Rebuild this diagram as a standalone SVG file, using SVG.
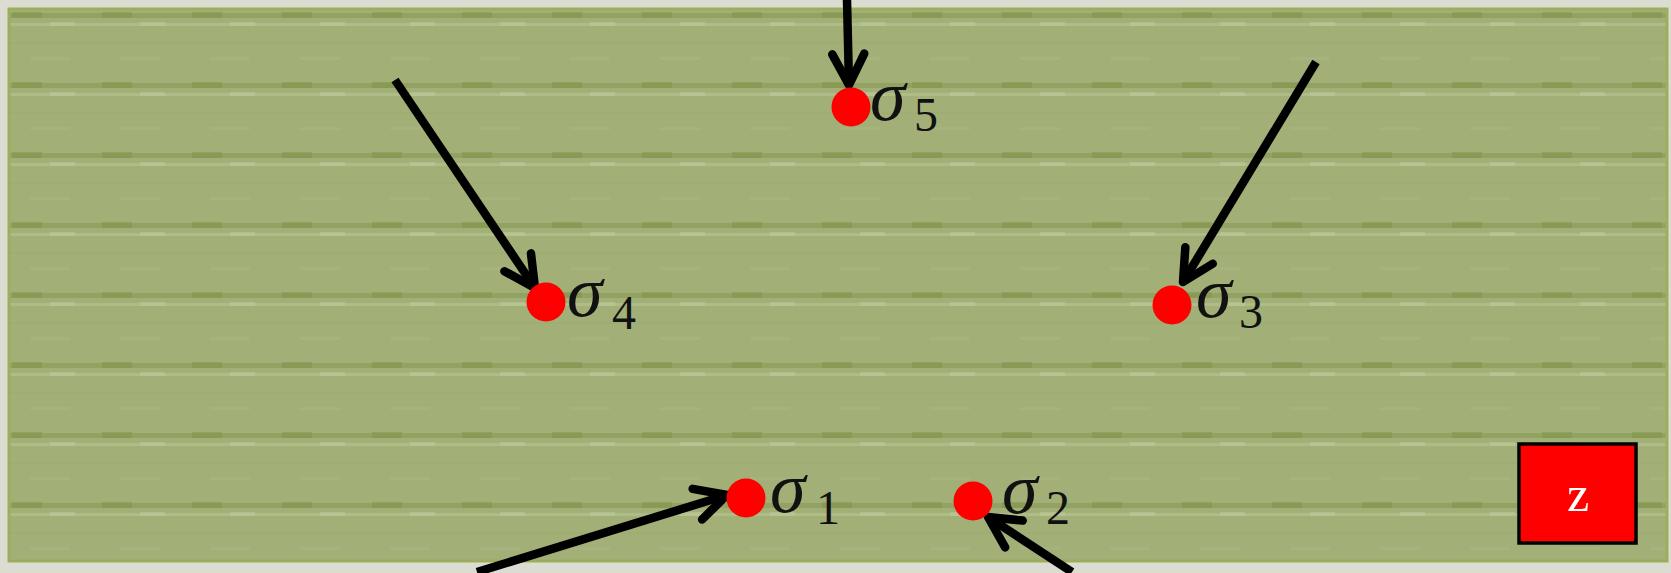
<svg xmlns="http://www.w3.org/2000/svg" width="1671" height="573" viewBox="0 0 1671 573">
<style>
.node circle{fill:#ff0000}
.sig{font-family:"Liberation Serif","DejaVu Serif",serif;font-style:italic;font-size:72px;fill:#111}
.sub{font-family:"Liberation Serif","DejaVu Serif",serif;font-size:48px;fill:#111}
.conn line{stroke:#000;stroke-width:8.5;fill:none;marker-end:url(#ah)}
</style>
<defs>
<marker id="ah" markerUnits="userSpaceOnUse" viewBox="-40 -25 50 50" markerWidth="50" markerHeight="50" refX="0" refY="0" orient="auto">
<path d="M-31,-16 L0,0 L-31,16" fill="none" stroke="#000" stroke-width="8.5" stroke-linecap="round" stroke-linejoin="round"/>
</marker>
<pattern id="stripes" patternUnits="userSpaceOnUse" x="0" y="12" width="90" height="70">
<rect x="0" y="0" width="90" height="70" fill="#a2b078"/>
<rect x="0" y="1" width="90" height="5" fill="#8c9d58" opacity="0.7"/>
<rect x="12" y="0" width="30" height="6" fill="#7f9148" opacity="0.5"/>
<rect x="0" y="11" width="90" height="3" fill="#b2bf8c" opacity="0.8"/>
<rect x="50" y="10" width="25" height="4" fill="#bcc899" opacity="0.6"/>
<rect x="0" y="30" width="90" height="2" fill="#9aa96c" opacity="0.5"/>
<rect x="30" y="45" width="40" height="3" fill="#a9b682" opacity="0.6"/>
</pattern>
</defs>
<rect x="0" y="0" width="1671" height="573" fill="#dcdcd3"/>
<rect x="9" y="9" width="1658" height="552" fill="url(#stripes)" stroke="#9cae5c" stroke-width="3"/>

<g class="conn">
<line x1="847" y1="0" x2="849" y2="85"/>
<line x1="395" y1="80" x2="535" y2="288"/>
<line x1="1316" y1="62" x2="1183" y2="282"/>
<line x1="477" y1="572" x2="727" y2="495"/>
<line x1="1072" y1="572" x2="988" y2="517"/>
</g>

<g id="sigma5" class="node">
<circle cx="851" cy="107" r="19.5"/>
<text class="sig" x="870" y="120">σ</text>
<text class="sub" x="914" y="131">5</text>
</g>
<g id="sigma4" class="node">
<circle cx="546" cy="302" r="19.5"/>
<text class="sig" x="567" y="316">σ</text>
<text class="sub" x="612" y="329">4</text>
</g>
<g id="sigma3" class="node">
<circle cx="1172" cy="305" r="19.5"/>
<text class="sig" x="1196" y="317">σ</text>
<text class="sub" x="1239" y="328">3</text>
</g>
<g id="sigma1" class="node">
<circle cx="746" cy="498" r="19.5"/>
<text class="sig" x="770" y="512">σ</text>
<text class="sub" x="816" y="524">1</text>
</g>
<g id="sigma2" class="node">
<circle cx="973" cy="501" r="19.5"/>
<text class="sig" x="1002" y="513">σ</text>
<text class="sub" x="1046" y="524">2</text>
</g>
<g id="z">
<rect x="1519" y="444" width="117" height="99" fill="#ff0000" stroke="#000" stroke-width="3.5"/>
<text x="1578" y="511" text-anchor="middle" font-family="Liberation Serif, serif" font-size="50" fill="#fff">z</text>
</g>
</svg>
